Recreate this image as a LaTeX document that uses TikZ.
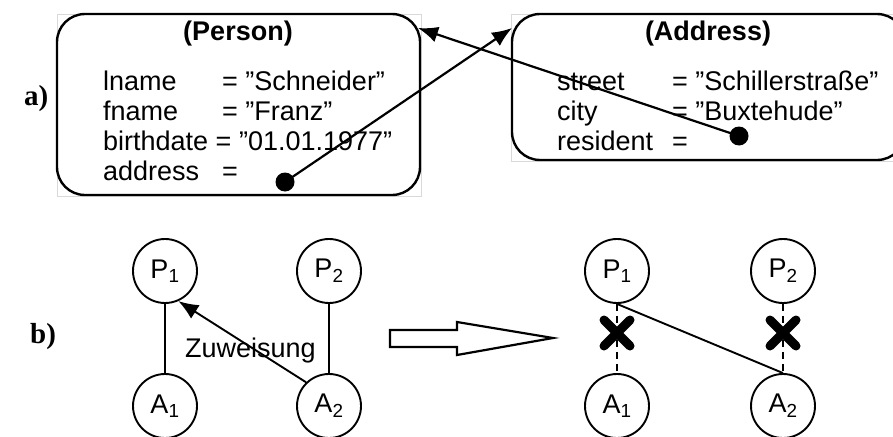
\documentclass[tikz,border=0pt]{standalone}
\usepackage{fontspec}
\setmainfont{Liberation Sans}
\newfontfamily\markenfont{Liberation Serif}
\usetikzlibrary{arrows.meta,calc}

\tikzset{
  objbox/.style={draw,line width=2.4pt,rounded corners=28pt,inner sep=0pt},
  rahmen/.style={draw=gray!30,line width=0.6pt},
  txt/.style={anchor=base west,inner sep=0pt,font=\fontsize{27}{30}\selectfont},
  titel/.style={inner sep=0pt,font=\fontsize{27}{30}\selectfont\bfseries},
  marke/.style={anchor=base west,inner sep=0pt,font=\fontsize{29}{32}\selectfont\markenfont\bfseries},
  punkt/.style={circle,fill,inner sep=0pt,minimum size=19pt},
  knoten/.style={circle,draw,line width=1.9pt,minimum size=64pt,inner sep=0pt,font=\fontsize{27}{30}\selectfont},
  verweis/.style={line width=2.2pt,-{Latex[length=20pt,width=16pt]}},
  kante/.style={line width=1.9pt},
  gestrichelt/.style={line width=1.9pt,dash pattern=on 7pt off 5pt},
  kreuz/.style={line width=9pt,line cap=round},
}

\begin{document}
\begin{tikzpicture}[x=1pt,y=-1pt]

\useasboundingbox (0,0) rectangle (893,436);

% Teilbild a: Objekte mit gegenseitigen Verweisen
\node[marke] (marka) at (24,105) {a)};

% Objekt Person
\draw[rahmen] (57,14) rectangle (421,196);
\node[objbox,minimum width=363pt,minimum height=181pt] (person) at (238.5,104.5) {};
\node[titel] (persontitel) at (238,34) {(Person)};
\node[txt] (lname) at (103,90) {lname};
\node[txt] (lnameval) at (222,90) {= ”Schneider”};
\node[txt] (fname) at (103,120) {fname};
\node[txt] (fnameval) at (222,120) {= ”Franz”};
\node[txt] (birthdate) at (103,150) {birthdate = ”01.01.1977”};
\node[txt] (address) at (103,180) {address};
\node[txt] (addressval) at (222,180) {=};
\node[punkt] (pdot) at (285,182) {};

% Objekt Address
\draw[rahmen] (511,14) rectangle (895,161);
\node[objbox,minimum width=393pt,minimum height=146pt] (adresse) at (708.5,87) {};
\node[titel] (adressetitel) at (708,34) {(Address)};
\node[txt] (street) at (557,90) {street};
\node[txt] (streetval) at (672,90) {= ”Schillerstraße”};
\node[txt] (city) at (557,120) {city};
\node[txt] (cityval) at (672,120) {= ”Buxtehude”};
\node[txt] (resident) at (557,150) {resident};
\node[txt] (residentval) at (672,150) {=};
\node[punkt] (adot) at (739,136) {};

% Verweise
\coordinate (adresseein) at (512,28);
\coordinate (personein) at (418,28);
\draw[verweis] (pdot.center) -- (adresseein);
\draw[verweis] (adot.center) -- (personein);

% Teilbild b: Zuweisung
\node[marke] (markb) at (30,343) {b)};

% vorher
\node[knoten] (P1) at (165,271) {P\textsubscript{1}};
\node[knoten] (P2) at (329,271) {P\textsubscript{2}};
\node[knoten] (A1) at (165,406) {A\textsubscript{1}};
\node[knoten] (A2) at (329,406) {A\textsubscript{2}};
\draw[kante] (P1) -- (A1);
\draw[kante] (P2) -- (A2);
\draw[verweis,line width=1.9pt] (A2.134) -- (P1.-66);
\node[txt] (zuweisung) at (185,357) {Zuweisung};

% Blockpfeil
\draw[line width=2.2pt] (390,330) -- (457,330) -- (457,322) -- (553,338)
  -- (457,355) -- (457,347) -- (390,347) -- cycle;

% nachher
\node[knoten] (P1r) at (617,271) {P\textsubscript{1}};
\node[knoten] (P2r) at (783,271) {P\textsubscript{2}};
\node[knoten] (A1r) at (617,406) {A\textsubscript{1}};
\node[knoten] (A2r) at (783,406) {A\textsubscript{2}};
\draw[gestrichelt] (P1r) -- (A1r);
\draw[gestrichelt] (P2r) -- (A2r);
\draw[kante] (P1r.south) -- (A2r.north);

% Kreuze
\coordinate (x1) at (617,333);
\coordinate (x2) at (783,333);
\foreach \k in {x1,x2}
  \draw[kreuz] (\k) +(-13,-13) -- +(13,13) (\k) +(-13,13) -- +(13,-13);

\end{tikzpicture}
\end{document}
